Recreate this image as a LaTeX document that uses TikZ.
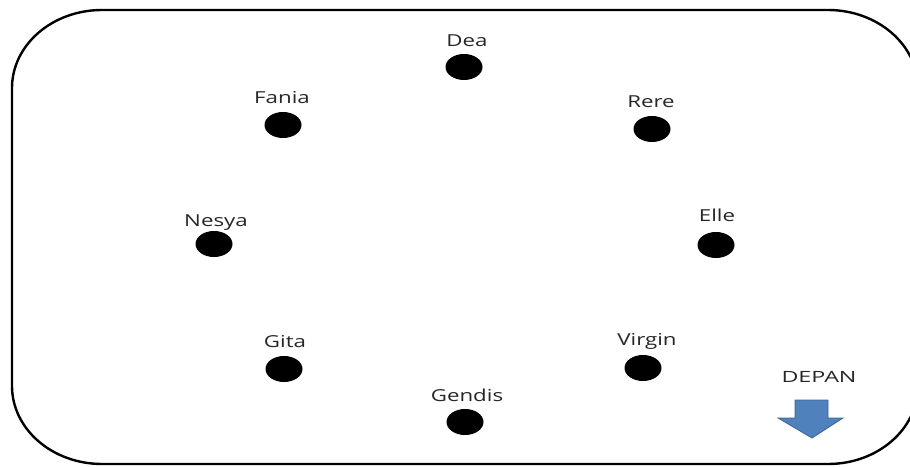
\documentclass[tikz,border=0pt]{standalone}
\usepackage{fontspec}
\setmainfont{Open Sans}
\usepackage{graphicx}
\usetikzlibrary{shapes.geometric}
\definecolor{txt}{HTML}{262626}
\definecolor{arrowfill}{HTML}{4F81BD}
\definecolor{arrowline}{HTML}{3C6496}
\begin{document}
\begin{tikzpicture}[x=1pt,y=1pt,
  seatdot/.style={ellipse,fill=black,inner sep=0pt,minimum width=37pt,minimum height=26pt},
  seatlabel/.style={anchor=base,inner sep=0pt,text=txt,font=\fontsize{16.5}{18}\selectfont},
  fronttext/.style={anchor=base,inner sep=0pt,text=txt,font=\fontsize{15.5}{17}\selectfont}]
\useasboundingbox (0,0) rectangle (910,466);
\fill[white] (0,0) rectangle (910,466);
\begin{scope}
\clip (0,0) rectangle (910,466);
\draw[line width=2.4pt] (12,378) arc[start angle=180,end angle=90,x radius=90,y radius=78]
  -- (828,456) arc[start angle=90,end angle=0,x radius=90,y radius=78]
  -- (918,80) arc[start angle=0,end angle=-90,x radius=90,y radius=78]
  -- (102,2) arc[start angle=-90,end angle=-180,x radius=90,y radius=78]
  -- cycle;
\end{scope}
\node[seatdot] (dea) at (464,399) {};
\node[seatlabel] (deaL) at (467,419) {\scalebox{1.35}[1]{Dea}};
\node[seatdot] (fania) at (283,341) {};
\node[seatlabel] (faniaL) at (282,362) {\scalebox{1.35}[1]{Fania}};
\node[seatdot] (rere) at (652,337) {};
\node[seatlabel] (rereL) at (651,358) {\scalebox{1.35}[1]{Rere}};
\node[seatdot] (nesya) at (214,222) {};
\node[seatlabel] (nesyaL) at (216,239) {\scalebox{1.35}[1]{Nesya}};
\node[seatdot] (elle) at (716,221) {};
\node[seatlabel] (elleL) at (717,244) {\scalebox{1.35}[1]{Elle}};
\node[seatdot] (gita) at (284,97) {};
\node[seatlabel] (gitaL) at (285,118) {\scalebox{1.35}[1]{Gita}};
\node[seatdot] (virgin) at (643,98) {};
\node[seatlabel] (virginL) at (647,120) {\scalebox{1.35}[1]{Virgin}};
\node[seatdot] (gendis) at (465,44) {};
\node[seatlabel] (gendisL) at (467,64) {\scalebox{1.35}[1]{Gendis}};
\node[fronttext] (depan) at (819,83) {\scalebox{1.5}[1]{DEPAN}};
\draw[fill=arrowfill,draw=arrowline,line width=0.8pt,line join=miter]
  (795,66) -- (828,66) -- (828,48) -- (843,48) -- (812,28) -- (778,48) -- (795,48) -- cycle;
\end{tikzpicture}
\end{document}
